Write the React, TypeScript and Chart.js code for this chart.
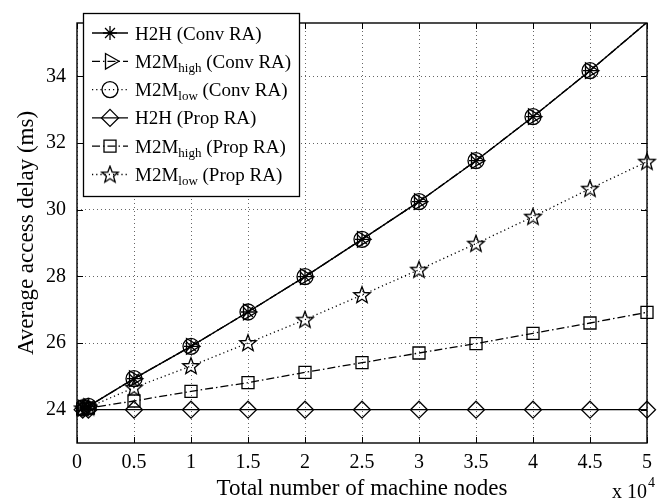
import React, { useEffect, useRef } from 'react';
import { Chart, registerables } from 'chart.js';
import { drawPoint } from 'chart.js/helpers';

Chart.register(...registerables);

// ---- data ----
const nodeCounts = [500, 1000, 5000, 10000, 15000, 20000, 25000, 30000, 35000, 40000, 45000, 50000];
const convH2H = [24.05, 24.1, 24.93, 25.9, 26.93, 27.99, 29.11, 30.24, 31.47, 32.79, 34.17, 35.62];
const convHigh = [24.05, 24.1, 24.93, 25.9, 26.93, 27.99, 29.11, 30.24, 31.47, 32.79, 34.17, 35.62];
const convLow = [24.05, 24.1, 24.93, 25.9, 26.93, 27.99, 29.11, 30.24, 31.47, 32.79, 34.17, 35.62];
const propH2H = [24, 24, 24, 24, 24, 24, 24, 24, 24, 24, 24, 24];
const propHigh = [24.02, 24.05, 24.26, 24.55, 24.81, 25.12, 25.41, 25.7, 25.98, 26.29, 26.6, 26.92];
const propLow = [24.04, 24.07, 24.66, 25.31, 26.0, 26.7, 27.44, 28.2, 28.98, 29.79, 30.63, 31.44];

const xTickValues = [0, 5000, 10000, 15000, 20000, 25000, 30000, 35000, 40000, 45000, 50000];
const xTickLabels = ['0', '0.5', '1', '1.5', '2', '2.5', '3', '3.5', '4', '4.5', '5'];
const yTickValues = [24, 26, 28, 30, 32, 34];
const yTickLabels = ['24', '26', '28', '30', '32', '34'];

const legendMain = ['H2H', 'M2M', 'M2M', 'H2H', 'M2M', 'M2M'];
const legendSub = ['', 'high', 'low', '', 'high', 'low'];
const legendRest = [' (Conv RA)', ' (Conv RA)', ' (Conv RA)', ' (Prop RA)', ' (Prop RA)', ' (Prop RA)'];

const xTitle = 'Total number of machine nodes';
const yTitle = 'Average access delay (ms)';
const xMultiplierBase = 'x 10';
const xMultiplierExp = '4';

const FONT = '"Liberation Serif", "Times New Roman", serif';

function makeStar(): HTMLCanvasElement {
  const c = document.createElement('canvas');
  c.width = 20;
  c.height = 20;
  const g = c.getContext('2d')!;
  const cx = 10, cy = 10.5, R = 8.8, r = 3.7;
  g.beginPath();
  for (let i = 0; i < 10; i++) {
    const rad = i % 2 === 0 ? R : r;
    const a = -Math.PI / 2 + (i * Math.PI) / 5;
    const px = cx + rad * Math.cos(a);
    const py = cy + rad * Math.sin(a);
    if (i === 0) g.moveTo(px, py);
    else g.lineTo(px, py);
  }
  g.closePath();
  g.lineWidth = 1.3;
  g.strokeStyle = '#000';
  g.stroke();
  return c;
}

const DOT = [1.2, 3];
const DASHDOT = [8, 3, 1.5, 3];

export default function App() {
  const ref = useRef<HTMLCanvasElement | null>(null);

  useEffect(() => {
    const canvas = ref.current;
    if (!canvas) return;
    const star = makeStar();
    const lastIdx = nodeCounts.length - 1;
    const hideLast = (r: number) => (ctx: any) => (ctx.dataIndex === lastIdx ? 0 : r);

    const mk = (vals: number[]) => nodeCounts.map((x, i) => ({ x, y: vals[i] }));

    const datasets: any[] = [
      { label: 'H2H (Conv RA)', data: mk(convH2H), borderDash: [], pointStyle: 'star', pointRadius: hideLast(7), rotation: 0 },
      { label: 'M2M high (Conv RA)', data: mk(convHigh), borderDash: DASHDOT, pointStyle: 'triangle', pointRadius: hideLast(9), rotation: 90 },
      { label: 'M2M low (Conv RA)', data: mk(convLow), borderDash: DOT, pointStyle: 'circle', pointRadius: hideLast(8), rotation: 0 },
      { label: 'H2H (Prop RA)', data: mk(propH2H), borderDash: [], pointStyle: 'rectRot', pointRadius: 8.5, rotation: 0, clip: false },
      { label: 'M2M high (Prop RA)', data: mk(propHigh), borderDash: DASHDOT, pointStyle: 'rect', pointRadius: 8.5, rotation: 0, clip: false },
      { label: 'M2M low (Prop RA)', data: mk(propLow), borderDash: DOT, pointStyle: star, pointRadius: 10, rotation: 0, clip: false },
    ].map((d) => ({
      ...d,
      borderColor: '#000',
      backgroundColor: 'rgba(0,0,0,0)',
      pointBorderColor: '#000',
      pointBackgroundColor: 'rgba(0,0,0,0)',
      borderWidth: 1.3,
      pointBorderWidth: 1.3,
      pointRotation: d.rotation,
      tension: 0,
    }));

    const decor = {
      id: 'decor',
      afterDraw(chart: any) {
        const { ctx, chartArea: a, scales } = chart;
        const xs = scales.x, ys = scales.y;
        ctx.save();
        // inward ticks
        ctx.strokeStyle = '#000';
        ctx.lineWidth = 1;
        ctx.setLineDash([]);
        const tl = 6;
        xTickValues.forEach((v) => {
          const px = Math.round(xs.getPixelForValue(v)) + 0.5;
          ctx.beginPath();
          ctx.moveTo(px, a.bottom);
          ctx.lineTo(px, a.bottom - tl);
          ctx.moveTo(px, a.top);
          ctx.lineTo(px, a.top + tl);
          ctx.stroke();
        });
        yTickValues.forEach((v) => {
          const py = Math.round(ys.getPixelForValue(v)) + 0.5;
          ctx.beginPath();
          ctx.moveTo(a.left, py);
          ctx.lineTo(a.left + tl, py);
          ctx.moveTo(a.right, py);
          ctx.lineTo(a.right - tl, py);
          ctx.stroke();
        });
        // box
        ctx.lineWidth = 1.4;
        ctx.strokeRect(a.left, a.top, a.right - a.left, a.bottom - a.top);

        // multiplier label
        ctx.fillStyle = '#000';
        ctx.textBaseline = 'alphabetic';
        ctx.textAlign = 'left';
        ctx.font = `20px ${FONT}`;
        const mx = 612, my = 498;
        ctx.fillText(xMultiplierBase, mx, my);
        const w = ctx.measureText(xMultiplierBase).width;
        ctx.font = `14px ${FONT}`;
        ctx.fillText(xMultiplierExp, mx + w + 1, my - 11);

        // legend
        const lx = 83, ly = 13, lw = 216, lh = 183;
        ctx.fillStyle = '#fff';
        ctx.fillRect(lx, ly, lw, lh);
        ctx.strokeStyle = '#000';
        ctx.lineWidth = 1.3;
        ctx.strokeRect(lx + 0.5, ly + 0.5, lw, lh);
        chart.data.datasets.forEach((ds: any, i: number) => {
          const y = 33 + i * 28.3;
          ctx.save();
          ctx.strokeStyle = '#000';
          ctx.lineWidth = 1.3;
          ctx.setLineDash(ds.borderDash || []);
          ctx.beginPath();
          ctx.moveTo(92, y);
          ctx.lineTo(128, y);
          ctx.stroke();
          ctx.setLineDash([]);
          ctx.fillStyle = 'rgba(0,0,0,0)';
          ctx.lineWidth = 1.3;
          const r = typeof ds.pointRadius === 'function' ? ds.pointRadius({ dataIndex: 0 }) : ds.pointRadius;
          drawPoint(ctx, { pointStyle: ds.pointStyle, rotation: ds.pointRotation, radius: r, borderWidth: 1.3 }, 110, y);
          ctx.restore();
          ctx.fillStyle = '#000';
          ctx.textBaseline = 'alphabetic';
          ctx.font = `19px ${FONT}`;
          let tx = 135;
          const base = y + 6.5;
          ctx.fillText(legendMain[i], tx, base);
          tx += ctx.measureText(legendMain[i]).width;
          if (legendSub[i]) {
            ctx.font = `13px ${FONT}`;
            ctx.fillText(legendSub[i], tx, base + 4);
            tx += ctx.measureText(legendSub[i]).width;
            ctx.font = `19px ${FONT}`;
          }
          ctx.fillText(legendRest[i], tx, base);
        });
        ctx.restore();
      },
    };

    const chart = new Chart(canvas, {
      type: 'line',
      data: { datasets },
      options: {
        animation: false,
        responsive: true,
        maintainAspectRatio: false,
        layout: { padding: { top: 6, right: 20, left: 0, bottom: 0 } },
        plugins: { legend: { display: false }, tooltip: { enabled: false } },
        scales: {
          x: {
            type: 'linear',
            min: 0,
            max: 50000,
            afterFit: (s: any) => { s.height = 60; },
            afterBuildTicks: (s: any) => { s.ticks = xTickValues.map((v) => ({ value: v })); },
            ticks: {
              callback: (_v: any, i: number) => xTickLabels[i],
              font: { family: FONT, size: 20 },
              color: '#000',
              padding: 8,
              maxRotation: 0,
              autoSkip: false,
            },
            grid: { color: 'rgba(0,0,0,0.6)', lineWidth: 1, drawTicks: false },
            border: { display: false, dash: [1, 3] },
            title: { display: true, text: xTitle, font: { family: FONT, size: 23 }, color: '#000', padding: { top: 0, bottom: 0 } },
          },
          y: {
            type: 'linear',
            min: 23,
            max: 35.6,
            afterFit: (s: any) => { s.width = 77; },
            afterBuildTicks: (s: any) => { s.ticks = yTickValues.map((v) => ({ value: v })); },
            ticks: {
              callback: (_v: any, i: number) => yTickLabels[i],
              font: { family: FONT, size: 20 },
              color: '#000',
              padding: 11,
              autoSkip: false,
            },
            grid: { color: 'rgba(0,0,0,0.6)', lineWidth: 1, drawTicks: false },
            border: { display: false, dash: [1, 3] },
            title: { display: true, text: yTitle, font: { family: FONT, size: 23 }, color: '#000', padding: { top: 13, bottom: 0 } },
          },
        },
      },
      plugins: [decor],
    } as any);
    return () => chart.destroy();
  }, []);

  return (
    <div style={{ position: 'absolute', left: 0, top: 0, width: 667, height: 503, background: '#fff' }}>
      <canvas ref={ref} />
    </div>
  );
}
